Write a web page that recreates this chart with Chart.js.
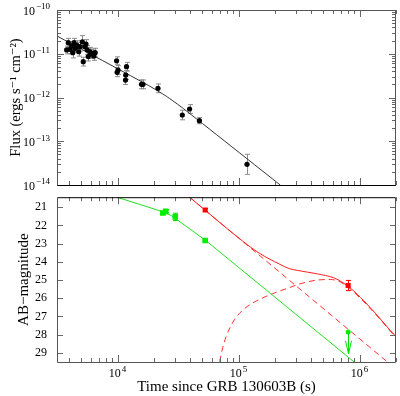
<!DOCTYPE html>
<html>
<head>
<meta charset="utf-8">
<script src="https://cdn.jsdelivr.net/npm/chart.js@4"></script>
<style>
  body { margin: 0; background: #fff; }
  #wrap { position: relative; width: 400px; height: 396px; }
  canvas { position: absolute; left: 0; }
  #top { top: 0; }
  #bot { top: 180px; }
</style>
</head>
<body>
<div id="wrap">
  <canvas id="top" width="400" height="196" style="width:400px;height:196px"></canvas>
  <canvas id="bot" width="400" height="216" style="width:400px;height:216px"></canvas>
</div>
<script>
// axis ranges
const T_MIN = 3162.28, T_MAX = 2e6;
const FLUX_MIN = 1e-14, FLUX_MAX = 1e-10;
const MAG_MIN = 20.45, MAG_MAX = 29.5;

const timeTicks = [1e4, 1e5, 1e6];
const fluxTicks = [1e-14, 1e-13, 1e-12, 1e-11, 1e-10];
const magTicks = [21, 22, 23, 24, 25, 26, 27, 28, 29];

// X-ray light curve (top panel)
const xrtTime = [3800, 3920, 4050, 4180, 4265, 4370, 4480, 4600, 4780, 4900, 5120, 5210, 5380, 5490, 5620, 5730, 5920, 6070, 6230, 6380, 6540,
  9820, 9930, 10100, 11640, 11700, 11870, 15780, 16250, 21600, 34300, 39400, 47500, 117500];
const xrtFlux = [1.22e-11, 1.79e-11, 1.26e-11, 1.50e-11, 1.06e-11, 1.79e-11, 1.33e-11, 1.58e-11, 1.11e-11, 1.45e-11, 1.88e-11, 6.6e-12, 1.45e-11, 1.67e-11, 1.22e-11, 8.6e-12, 1.11e-11, 9.9e-12, 1.02e-11, 8.9e-12, 1.06e-11,
  6.9e-12, 3.77e-12, 4.25e-12, 2.5e-12, 3.27e-12, 5.06e-12, 2.0e-12, 2.0e-12, 1.62e-12, 3.98e-13, 5.46e-13, 2.95e-13, 2.97e-14];
const xrtErrDex = [0.09, 0.1, 0.1, 0.1, 0.12, 0.1, 0.09, 0.1, 0.1, 0.1, 0.14, 0.1, 0.09, 0.1, 0.1, 0.1, 0.1, 0.1, 0.1, 0.1, 0.1,
  0.09, 0.1, 0.1, 0.1, 0.1, 0.1, 0.1, 0.1, 0.1, 0.11, 0.1, 0.07, 0.23];
const xrtModelTime = [3162, 18000, 25300, 35000, 221000];
const xrtModelFlux = [2.55e-11, 1.89e-12, 1.07e-12, 5.6e-13, 1e-14];

// optical / nIR (bottom panel)
const greenTime = [23700, 25000, 30000, 53000];
const greenMag = [21.32, 21.23, 21.53, 22.83];
const greenErr = [0.08, 0.08, 0.2, 0.06];
const greenLimTime = [805000];
const greenLimMag = [27.85];
const redTime = [53000, 805000];
const redMag = [21.15, 25.3];
const redErr = [0.08, 0.28];

const greenModelTime = [10000, 23700, 28000, 54100, 898000];
const greenModelMag = [20.46, 21.25, 21.47, 22.85, 29.49];
const redTotalTime = [39400, 108000, 148000, 217000, 262000, 306000, 448000, 614000, 719000, 843000, 1085000, 1396000, 1800000, 2000000];
const redTotalMag = [20.45, 22.86, 23.52, 24.12, 24.37, 24.47, 24.66, 24.88, 25.12, 25.45, 26.14, 26.93, 27.78, 28.1];
const redAgTime = [39400, 1687000];
const redAgMag = [20.45, 29.48];
const knTime = [69800, 74000, 78900, 83900, 92300, 101500, 115400, 139300, 190800, 262000, 306000, 448000, 577000, 698000, 843000, 1085000, 1489000, 1914000, 2000000];
const knMag = [29.48, 28.71, 28.11, 27.69, 27.18, 26.84, 26.5, 26.16, 25.75, 25.42, 25.25, 25.0, 24.97, 25.12, 25.5, 26.2, 27.18, 28.03, 28.2];

const pts = (xs, ys) => xs.map((x, i) => ({ x, y: ys[i] }));
const SERIF = '"Liberation Serif", "DejaVu Serif", serif';
const TICK_COL = '#666';

function logSteps(lo, hi) {
  const out = [];
  for (let k = Math.floor(Math.log10(lo)); k <= Math.ceil(Math.log10(hi)); k++) {
    for (let m = 1; m < 10; m++) {
      const v = m * Math.pow(10, k);
      if (v >= lo * 0.9999 && v <= hi * 1.0001) out.push({ v, major: m === 1 });
    }
  }
  return out;
}

function drawPow(ctx, exp, x, y, align) {
  ctx.font = '12px ' + SERIF;
  const wb = ctx.measureText('10').width;
  ctx.font = '9px ' + SERIF;
  const we = ctx.measureText(exp).width;
  const x0 = align === 'right' ? x - wb - we - 1 : x - (wb + we + 1) / 2;
  ctx.fillStyle = '#000';
  ctx.textAlign = 'left';
  ctx.textBaseline = 'middle';
  ctx.font = '12px ' + SERIF;
  ctx.fillText('10', x0, y);
  ctx.font = '9px ' + SERIF;
  ctx.fillText(exp, x0 + wb + 1, y - 4.5);
}

function sup(n) {
  return String(n).replace('-', '\u2212');
}

function xTicks(ctx, a, sx) {
  for (const t of logSteps(T_MIN, T_MAX)) {
    const x = Math.round(sx.getPixelForValue(t.v)) + 0.5;
    const len = t.major ? 7 : 4;
    ctx.moveTo(x, a.top); ctx.lineTo(x, a.top + len);
    ctx.moveTo(x, a.bottom); ctx.lineTo(x, a.bottom - len);
  }
}

function frameBox(ctx, a, midTop) {
  const l = a.left + 0.5, r = a.right - 0.5, t = a.top + 0.5, b = a.bottom + 0.5;
  ctx.strokeStyle = '#555';
  ctx.beginPath();
  ctx.moveTo(l, t); ctx.lineTo(l, b);
  ctx.moveTo(r, t); ctx.lineTo(r, b);
  if (midTop) { ctx.moveTo(l, b); ctx.lineTo(r, b); } else { ctx.moveTo(l, t); ctx.lineTo(r, t); }
  ctx.stroke();
  ctx.strokeStyle = '#000';
  ctx.beginPath();
  const y = midTop ? t : b;
  ctx.moveTo(l, y); ctx.lineTo(r, y);
  ctx.stroke();
}

function errBars(ctx, sx, sy, xs, lo, hi, color) {
  ctx.strokeStyle = color;
  ctx.lineWidth = 1;
  ctx.beginPath();
  xs.forEach((t, i) => {
    const x = Math.round(sx.getPixelForValue(t)) + 0.5;
    const y1 = sy.getPixelForValue(lo[i]);
    const y2 = sy.getPixelForValue(hi[i]);
    ctx.moveTo(x, y1); ctx.lineTo(x, y2);
    ctx.moveTo(x - 2.5, y1); ctx.lineTo(x + 2.5, y1);
    ctx.moveTo(x - 2.5, y2); ctx.lineTo(x + 2.5, y2);
  });
  ctx.stroke();
}

const topDecor = {
  id: 'topDecor',
  beforeDatasetsDraw(chart) {
    const { ctx, scales } = chart;
    ctx.save();
    errBars(ctx, scales.x, scales.y, xrtTime,
      xrtFlux.map((f, i) => f / Math.pow(10, xrtErrDex[i])),
      xrtFlux.map((f, i) => f * Math.pow(10, xrtErrDex[i])), '#8c8c8c');
    ctx.restore();
  },
  afterDraw(chart) {
    const { ctx, chartArea: a, scales } = chart;
    ctx.save();
    ctx.lineWidth = 1;
    ctx.strokeStyle = TICK_COL;
    ctx.beginPath();
    xTicks(ctx, a, scales.x);
    for (const t of logSteps(FLUX_MIN, FLUX_MAX)) {
      const y = Math.round(scales.y.getPixelForValue(t.v)) + 0.5;
      const len = t.major ? 7 : 4;
      ctx.moveTo(a.left, y); ctx.lineTo(a.left + len, y);
      ctx.moveTo(a.right, y); ctx.lineTo(a.right - len, y);
    }
    ctx.stroke();
    frameBox(ctx, a, false);
    for (const v of fluxTicks) {
      drawPow(ctx, sup(Math.round(Math.log10(v))), 50, scales.y.getPixelForValue(v) + 1.5, 'right');
    }
    ctx.restore();
  }
};

const botDecor = {
  id: 'botDecor',
  beforeDatasetsDraw(chart) {
    const { ctx, scales } = chart;
    ctx.save();
    errBars(ctx, scales.x, scales.y, greenTime,
      greenMag.map((m, i) => m - greenErr[i]), greenMag.map((m, i) => m + greenErr[i]), '#00e000');
    errBars(ctx, scales.x, scales.y, redTime,
      redMag.map((m, i) => m - redErr[i]), redMag.map((m, i) => m + redErr[i]), '#ff0000');
    ctx.restore();
  },
  afterDatasetsDraw(chart) {
    const { ctx, scales } = chart;
    ctx.save();
    ctx.strokeStyle = '#00e000';
    ctx.lineWidth = 1;
    ctx.beginPath();
    greenLimTime.forEach((t, i) => {
      const x = Math.round(scales.x.getPixelForValue(t)) + 0.5;
      const y1 = scales.y.getPixelForValue(greenLimMag[i]);
      const y2 = scales.y.getPixelForValue(greenLimMag[i] + 1.2);
      ctx.moveTo(x, y1); ctx.lineTo(x, y2);
      ctx.moveTo(x - 3, y2 - 13); ctx.lineTo(x, y2); ctx.lineTo(x + 3, y2 - 13);
    });
    ctx.stroke();
    ctx.restore();
  },
  afterDraw(chart) {
    const { ctx, chartArea: a, scales } = chart;
    ctx.save();
    ctx.lineWidth = 1;
    ctx.strokeStyle = TICK_COL;
    ctx.beginPath();
    xTicks(ctx, a, scales.x);
    for (const m of magTicks) {
      const y = Math.round(scales.y.getPixelForValue(m)) + 0.5;
      ctx.moveTo(a.left, y); ctx.lineTo(a.left + 6, y);
      ctx.moveTo(a.right, y); ctx.lineTo(a.right - 6, y);
    }
    ctx.stroke();
    frameBox(ctx, a, true);
    for (const v of timeTicks) {
      drawPow(ctx, String(Math.round(Math.log10(v))), scales.x.getPixelForValue(v), a.bottom + 12, 'center');
    }
    ctx.restore();
  }
};

const common = {
  responsive: false,
  animation: false,
  devicePixelRatio: 1,
  plugins: { legend: { display: false }, tooltip: { enabled: false } }
};

new Chart(document.getElementById('top'), {
  type: 'scatter',
  data: {
    datasets: [
      {
        label: 'X-ray model',
        data: pts(xrtModelTime, xrtModelFlux),
        showLine: true, borderColor: '#333', borderWidth: 1, pointRadius: 0,
        tension: 0.15, order: 2
      },
      {
        label: 'XRT 0.3-10 keV',
        data: pts(xrtTime, xrtFlux),
        pointRadius: 2.6, backgroundColor: '#000', borderColor: '#000', borderWidth: 0, order: 1
      }
    ]
  },
  options: {
    ...common,
    layout: { padding: { top: 10, right: 3, bottom: 11, left: 0 } },
    scales: {
      x: { type: 'logarithmic', min: T_MIN, max: T_MAX, display: false },
      y: {
        type: 'logarithmic', min: FLUX_MIN, max: FLUX_MAX,
        afterFit(s) { s.width = 57; },
        grid: { display: false, drawTicks: false },
        border: { display: false },
        ticks: { display: false },
        title: {
          display: true, text: 'Flux (ergs s\u207B\u00B9 cm\u207B\u00B2)', color: '#000',
          font: { family: SERIF, size: 14.5 }, padding: { top: 7, bottom: 0 }
        }
      }
    }
  },
  plugins: [topDecor]
});

new Chart(document.getElementById('bot'), {
  type: 'scatter',
  data: {
    datasets: [
      {
        label: 'green model', data: pts(greenModelTime, greenModelMag),
        showLine: true, borderColor: '#22e022', borderWidth: 1, pointRadius: 0, order: 3
      },
      {
        label: 'red total', data: pts(redTotalTime, redTotalMag),
        showLine: true, borderColor: '#ff2020', borderWidth: 1, pointRadius: 0,
        cubicInterpolationMode: 'monotone', order: 3
      },
      {
        label: 'red afterglow', data: pts(redAgTime, redAgMag),
        showLine: true, borderColor: '#ff3030', borderWidth: 1, borderDash: [6, 4], pointRadius: 0, order: 3
      },
      {
        label: 'red kilonova', data: pts(knTime, knMag),
        showLine: true, borderColor: '#ff3030', borderWidth: 1, borderDash: [6, 4], pointRadius: 0,
        cubicInterpolationMode: 'monotone', order: 3
      },
      {
        label: 'green data', data: pts(greenTime, greenMag),
        pointStyle: 'rect', pointRadius: 4, backgroundColor: '#00ee00', borderWidth: 0, order: 1
      },
      {
        label: 'green limit', data: pts(greenLimTime, greenLimMag),
        pointRadius: 2.5, backgroundColor: '#00ee00', borderWidth: 0, order: 1
      },
      {
        label: 'red data', data: pts(redTime, redMag),
        pointStyle: 'rect', pointRadius: 3.6, backgroundColor: '#ff0000', borderWidth: 0, order: 1
      }
    ]
  },
  options: {
    ...common,
    layout: { padding: { top: 5, right: 3, bottom: 0, left: 0 } },
    scales: {
      x: {
        type: 'logarithmic', min: T_MIN, max: T_MAX,
        afterFit(s) { s.height = 34; },
        grid: { display: false, drawTicks: false },
        border: { display: false },
        ticks: { display: false },
        title: {
          display: true, text: 'Time since GRB 130603B (s)', color: '#000',
          font: { family: SERIF, size: 15 }, padding: { top: 0, bottom: 0 }
        }
      },
      y: {
        type: 'linear', reverse: true, min: MAG_MIN, max: MAG_MAX,
        afterFit(s) { s.width = 57; },
        afterBuildTicks(s) { s.ticks = magTicks.map(v => ({ value: v })); },
        grid: { display: false, drawTicks: false },
        border: { display: false },
        ticks: { padding: 10, color: '#000', font: { family: SERIF, size: 12 } },
        title: {
          display: true, text: 'AB\u2212magnitude', color: '#000',
          font: { family: SERIF, size: 15 }, padding: { top: 15, bottom: 0 }
        }
      }
    }
  },
  plugins: [botDecor]
});
</script>
</body>
</html>
